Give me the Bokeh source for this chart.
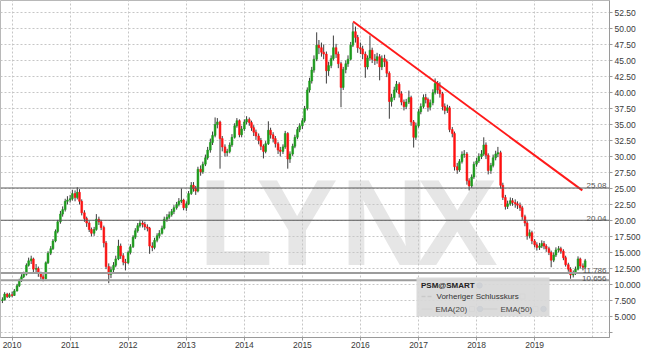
import pandas as pd
from datetime import datetime
from bokeh.plotting import figure
from bokeh.models import (Range1d, FixedTicker, Span, Label, BoxAnnotation,
                          DatetimeTickFormatter, ColumnDataSource)
from bokeh.embed import file_html
from bokeh.resources import INLINE

# ---------------- data (semi-monthly candles) ----------------
first_open = 7.5
c2009 = [7.6, 8.5, 8.1, 8.4]
h2009 = [8.0, 8.8, 8.7, 8.7]
l2009 = [7.1, 7.5, 7.9, 7.9]

c2010 = [8.3, 9.0, 9.8, 10.6, 11.2, 11.6, 13.0, 13.7, 14.0, 12.4, 12.5, 11.8, 11.2, 10.9, 13.4, 14.9, 15.6, 16.8, 18.3, 19.8, 21.0, 21.7, 23.0, 23.2]
h2010 = [8.9, 9.3, 10.1, 10.9, 11.6, 12.0, 13.3, 14.2, 14.5, 14.2, 13.2, 12.8, 12.0, 11.6, 13.6, 15.2, 16.0, 17.1, 18.6, 20.1, 21.5, 22.2, 23.4, 23.8]
l2010 = [8.0, 8.2, 8.9, 9.6, 10.4, 11.0, 11.4, 12.8, 13.2, 11.9, 11.8, 11.2, 10.8, 10.5, 10.8, 13.2, 14.6, 15.4, 16.6, 18.0, 19.5, 20.6, 21.4, 22.5]

c2011 = [23.4, 24.2, 23.6, 24.4, 23.0, 21.2, 20.3, 19.6, 18.6, 18.0, 18.6, 20.2, 19.8, 18.9, 16.5, 12.8, 11.6, 12.3, 13.0, 14.0, 16.0, 14.5, 13.5, 13.4]
h2011 = [24.0, 24.8, 24.7, 25.2, 24.9, 23.3, 21.6, 20.6, 19.9, 18.9, 19.0, 21.0, 20.6, 20.1, 19.2, 16.8, 13.3, 12.8, 13.5, 14.5, 17.0, 16.4, 14.9, 14.0]
l2011 = [22.8, 23.1, 23.0, 23.3, 22.5, 20.8, 19.8, 19.0, 18.2, 17.5, 17.6, 18.4, 19.3, 18.5, 15.8, 12.4, 10.2, 11.0, 11.8, 12.7, 13.8, 14.0, 13.0, 12.2]

c2012 = [15.0, 15.9, 17.4, 18.4, 19.2, 19.6, 19.4, 19.0, 18.8, 16.0, 15.8, 16.9, 17.6, 18.0, 18.8, 20.2, 20.5, 20.9, 21.4, 22.0, 22.5, 23.0, 23.2, 22.0]
h2012 = [15.3, 16.3, 17.7, 18.8, 19.6, 20.1, 20.0, 19.8, 19.4, 19.0, 16.6, 17.3, 18.0, 18.5, 19.2, 20.6, 21.0, 21.4, 21.8, 22.4, 22.9, 23.5, 25.0, 23.4]
l2012 = [13.2, 14.7, 15.7, 17.1, 18.1, 18.9, 18.9, 18.5, 18.3, 14.8, 15.2, 15.5, 16.6, 17.2, 17.8, 18.6, 19.8, 20.2, 20.6, 21.0, 21.7, 22.2, 22.7, 21.6]

c2013 = [22.6, 24.2, 25.5, 25.0, 24.6, 28.0, 27.6, 28.8, 29.8, 31.0, 32.2, 33.3, 35.0, 35.4, 32.8, 31.5, 30.6, 30.8, 31.8, 33.0, 34.8, 35.6, 33.4, 34.3]
h2013 = [23.0, 24.6, 26.0, 26.0, 25.4, 28.4, 28.6, 29.2, 30.3, 31.5, 32.8, 33.9, 36.1, 36.0, 35.6, 33.2, 31.9, 31.2, 32.2, 33.5, 35.2, 36.0, 35.8, 34.8]
l2013 = [21.5, 22.4, 24.0, 24.5, 24.0, 24.4, 27.0, 27.3, 28.5, 29.5, 30.6, 31.8, 33.0, 34.4, 28.1, 30.8, 30.0, 30.0, 30.5, 31.5, 32.8, 34.5, 33.0, 33.0]

c2014 = [35.4, 35.8, 35.3, 34.5, 33.8, 33.2, 32.5, 31.6, 30.8, 32.0, 34.1, 33.4, 32.8, 32.0, 31.0, 30.8, 31.5, 33.6, 29.6, 30.4, 31.6, 33.0, 34.2, 34.8]
h2014 = [35.8, 36.3, 36.1, 35.6, 34.9, 34.2, 33.6, 32.9, 31.9, 32.4, 35.5, 34.5, 33.8, 33.2, 32.3, 31.5, 31.9, 34.0, 33.8, 30.8, 32.0, 33.4, 34.6, 35.2]
l2014 = [34.0, 35.0, 34.8, 34.0, 33.2, 32.6, 31.9, 31.0, 29.7, 30.5, 31.8, 32.8, 32.2, 31.4, 30.4, 30.0, 30.4, 31.2, 28.1, 29.0, 30.1, 31.3, 32.7, 33.8]

c2015 = [35.6, 37.5, 40.4, 41.8, 43.5, 45.2, 47.4, 47.0, 46.3, 46.0, 43.4, 44.2, 45.3, 47.0, 46.0, 44.5, 40.8, 43.6, 44.5, 45.2, 47.4, 49.5, 48.6, 47.0]
h2015 = [36.0, 37.9, 40.8, 42.3, 44.0, 45.8, 49.4, 48.2, 47.8, 47.5, 46.4, 44.8, 45.8, 48.9, 47.6, 46.4, 44.8, 44.0, 45.0, 45.8, 47.9, 50.9, 50.3, 49.0]
l2015 = [34.3, 35.3, 37.2, 40.0, 41.4, 43.1, 44.9, 46.0, 45.6, 45.2, 41.4, 42.6, 43.8, 45.0, 45.4, 43.8, 37.7, 40.4, 43.0, 44.0, 45.0, 47.1, 47.8, 46.2]

c2016 = [46.8, 46.0, 44.0, 45.4, 46.6, 45.2, 45.0, 45.6, 44.0, 45.3, 44.8, 43.0, 38.6, 39.2, 40.4, 41.3, 39.8, 38.5, 37.8, 38.5, 39.2, 35.4, 33.0, 34.8]
h2016 = [47.8, 47.3, 46.4, 45.8, 48.9, 47.0, 46.0, 46.2, 46.0, 45.8, 45.9, 45.2, 43.3, 39.8, 40.9, 41.8, 41.6, 40.2, 38.9, 39.0, 40.3, 39.5, 35.7, 35.3]
l2016 = [46.0, 45.2, 42.3, 43.6, 45.0, 44.6, 44.3, 44.5, 41.9, 43.5, 44.0, 42.4, 35.9, 37.8, 38.8, 40.0, 39.2, 38.0, 37.2, 37.4, 38.2, 34.8, 31.4, 32.6]

c2017 = [37.0, 37.8, 39.2, 38.9, 37.7, 38.4, 40.0, 41.4, 40.4, 39.8, 37.8, 37.2, 37.6, 34.2, 33.6, 28.4, 27.9, 29.2, 30.3, 30.4, 26.2, 25.4, 26.8, 28.8]
h2017 = [37.4, 38.3, 39.7, 39.8, 39.2, 38.9, 40.5, 42.2, 41.8, 41.6, 40.1, 38.3, 38.1, 37.9, 34.6, 33.9, 29.0, 29.6, 30.8, 31.0, 30.7, 26.6, 27.2, 29.2]
l2017 = [34.5, 36.6, 37.5, 38.3, 37.0, 37.2, 38.0, 39.7, 39.8, 39.2, 37.2, 36.6, 36.8, 33.8, 33.0, 27.8, 27.3, 27.6, 28.9, 29.8, 25.6, 24.7, 25.1, 26.5]

c2018 = [29.3, 30.0, 30.4, 31.8, 30.2, 27.8, 28.6, 29.8, 30.4, 30.6, 25.5, 23.6, 22.2, 22.6, 23.1, 22.8, 22.6, 22.4, 22.0, 20.6, 19.6, 17.6, 18.1, 16.8]
h2018 = [29.8, 30.5, 31.0, 33.0, 32.2, 30.5, 29.0, 30.3, 30.9, 31.5, 30.9, 25.9, 24.0, 23.1, 23.6, 23.5, 23.3, 23.0, 22.8, 22.3, 20.9, 19.9, 18.6, 18.4]
l2018 = [28.4, 29.0, 29.6, 30.1, 29.6, 27.2, 27.3, 28.3, 29.4, 29.9, 25.0, 23.2, 21.7, 21.8, 22.3, 22.3, 22.0, 21.8, 21.5, 20.1, 19.1, 17.0, 17.2, 16.3]

c2019 = [16.2, 15.8, 16.0, 16.4, 16.0, 15.6, 15.0, 13.8, 14.6, 15.4, 15.6, 15.2, 14.2, 13.1, 12.4, 11.5, 11.8, 12.4, 14.0, 12.9, 12.7, 13.7]
h2019 = [17.1, 16.6, 16.5, 16.9, 16.8, 16.3, 15.9, 15.3, 15.0, 15.8, 16.0, 15.9, 15.5, 14.5, 13.4, 12.7, 12.2, 12.8, 14.4, 14.2, 13.3, 14.0]
l2019 = [15.8, 15.3, 15.4, 15.7, 15.5, 15.1, 14.6, 12.7, 13.5, 14.3, 15.0, 14.8, 13.8, 12.8, 12.0, 10.9, 11.1, 11.5, 12.2, 12.5, 12.2, 12.5]

trend_dates = ["2015-11-16", "2019-10-28"]
trend_values = [51.1, 24.7]

level_values = [25.08, 20.04, 11.786, 10.656]
level_labels = ["25.08", "20.04", "11.786", "10.656"]

years = list(range(2010, 2021))
year_labels = ["2010", "2011", "2012", "2013", "2014", "2015", "2016", "2017", "2018", "2019", ""]

y_tick_values = [2.5, 5.0, 7.5, 10.0, 12.5, 15.0, 17.5, 20.0, 22.5, 25.0, 27.5, 30.0,
                 32.5, 35.0, 37.5, 40.0, 42.5, 45.0, 47.5, 50.0, 52.5]
y_tick_labels = ["", "5.000", "7.500", "10.000", "12.500", "15.000", "17.500", "20.00",
                 "22.50", "25.00", "27.50", "30.00", "32.50", "35.00", "37.50", "40.00",
                 "42.50", "45.00", "47.50", "50.00", "52.50"]

# ---------------- build ----------------
close = c2009 + c2010 + c2011 + c2012 + c2013 + c2014 + c2015 + c2016 + c2017 + c2018 + c2019
high = h2009 + h2010 + h2011 + h2012 + h2013 + h2014 + h2015 + h2016 + h2017 + h2018 + h2019
low = l2009 + l2010 + l2011 + l2012 + l2013 + l2014 + l2015 + l2016 + l2017 + l2018 + l2019
opens = [first_open] + close[:-1]
dates = pd.date_range("2009-11-01", periods=len(close), freq="SMS")

GREEN = "#1c9c1c"
RED = "#ff1212"
src = ColumnDataSource(dict(
    date=dates, high=high, low=low,
    top=[max(o, c) for o, c in zip(opens, close)],
    bottom=[min(o, c) for o, c in zip(opens, close)],
    color=[GREEN if c >= o else RED for o, c in zip(opens, close)],
))


def ms(d):
    return pd.Timestamp(d).value / 1e6


X0, X1 = ms(datetime(2009, 10, 20)), ms(datetime(2020, 4, 16))
Y0, Y1 = 1.72, 54.375
FRAME_W, FRAME_H = 609, 337


def sx(px):  # canvas pixel -> data x (for decorations)
    return X0 + px / FRAME_W * (X1 - X0)


def sy(py):  # canvas pixel -> data y (for decorations)
    return Y1 - py / FRAME_H * (Y1 - Y0)


p = figure(width=645, height=357, x_axis_type="datetime", y_axis_location="right",
           x_range=Range1d(X0, X1), y_range=Range1d(Y0, Y1),
           output_backend="svg", toolbar_location=None,
           min_border_left=0, min_border_top=0, min_border_right=36, min_border_bottom=20)
p.background_fill_color = "white"
p.border_fill_color = "white"
p.outline_line_color = "#b8b8b8"

AX = "#9a9a9a"
for ax in (p.xaxis, p.yaxis):
    ax.axis_line_color = AX
    ax.major_tick_line_color = AX
    ax.major_tick_out = 3
    ax.major_tick_in = 0
    ax.minor_tick_line_color = None
    ax.major_label_text_font = "Liberation Sans"
    ax.major_label_text_font_size = "8.5px"
    ax.major_label_text_color = "#3a3a3a"

year_ticks = [ms(datetime(y, 1, 1)) for y in years]
p.xaxis.ticker = FixedTicker(ticks=year_ticks[:-1])
p.xaxis.formatter = DatetimeTickFormatter(years="%Y", months="%Y", days="%Y")
p.xaxis.major_label_overrides = {t: lab for t, lab in zip(year_ticks, year_labels)}
p.xaxis.major_label_standoff = 1
p.xgrid.ticker = FixedTicker(ticks=year_ticks)

p.yaxis.ticker = FixedTicker(ticks=y_tick_values)
p.yaxis.major_label_overrides = {v: lab for v, lab in zip(y_tick_values, y_tick_labels)}
p.yaxis.major_label_standoff = 2
p.ygrid.ticker = FixedTicker(ticks=y_tick_values)

for g in (p.xgrid, p.ygrid):
    g.grid_line_color = "#c6c6c6"
    g.grid_line_dash = "2 2"
    g.grid_line_width = 1

# watermark
for letter, left in zip("LYNX", [198, 256, 340, 416]):
    p.add_layout(Label(x=sx(left), y=sy(222), text=letter, text_align="left",
                       text_baseline="alphabetic", text_font="Liberation Sans",
                       text_font_style="bold", text_font_size="122px",
                       text_color="#e6e6e6", level="image"))

# level lines
level_styles = [("#5a5a5a", 1.2), ("#5a5a5a", 1.2), ("#9c9c9c", 2), ("#9c9c9c", 2)]
for v, lab, (col, w) in zip(level_values, level_labels, level_styles):
    p.add_layout(Span(location=v, dimension="width", line_color=col, line_width=w))
    p.add_layout(Label(x=sx(606), y=v + 2.2 * (Y1 - Y0) / FRAME_H, text=lab,
                       text_align="right", text_baseline="alphabetic",
                       text_font="Liberation Sans", text_font_size="8px",
                       text_color="#555555"))

# candles
BODY_W = 11 * 86400000
p.segment(x0="date", y0="high", x1="date", y1="low", source=src,
          line_color="#3c3c3c", line_width=1)
p.vbar(x="date", width=BODY_W, top="top", bottom="bottom", source=src,
       fill_color="color", line_color="color", line_width=0.6)

# trend line
p.line(x=[ms(d) for d in trend_dates], y=trend_values, line_color="#ff1a1a", line_width=2)

# legend box
p.add_layout(BoxAnnotation(left=sx(416), right=sx(549), top=sy(277), bottom=sy(316),
                           fill_color="#d8d8d8", fill_alpha=0.92, line_color=None,
                           level="overlay"))
leg_font = "Liberation Sans"
p.add_layout(Label(x=sx(420.5), y=sy(285), text="PSM@SMART", text_baseline="middle",
                   text_font=leg_font, text_font_style="bold", text_font_size="8px",
                   text_color="#222222", level="overlay"))
p.add_layout(Label(x=sx(436), y=sy(296), text="Vorheriger Schlusskurs", text_baseline="middle",
                   text_font=leg_font, text_font_size="8px", text_color="#333333",
                   level="overlay"))
p.add_layout(Label(x=sx(435), y=sy(308.5), text="EMA(20)", text_baseline="middle",
                   text_font=leg_font, text_font_size="8px", text_color="#444444",
                   level="overlay"))
p.add_layout(Label(x=sx(500), y=sy(308.5), text="EMA(50)", text_baseline="middle",
                   text_font=leg_font, text_font_size="8px", text_color="#444444",
                   level="overlay"))
p.segment(x0=[sx(421)], y0=[sy(296)], x1=[sx(433)], y1=[sy(296)], line_color="#222222",
          line_width=1.3, line_dash="4 2", level="overlay")
p.segment(x0=[sx(421), sx(482)], y0=[sy(308.5)] * 2, x1=[sx(432), sx(497)],
          y1=[sy(308.5)] * 2, line_color=["#a0a0a0", "#555555"], line_width=1,
          level="overlay")
p.scatter(x=[sx(522), sx(471.5), sx(535)], y=[sy(296), sy(308.5), sy(308.5)],
          marker="square", size=5, fill_color="white", line_color="#c8c8c8", level="overlay")
p.scatter(x=[sx(479), sx(479.5), sx(543)], y=[sy(285), sy(308.5), sy(308.5)],
          marker="circle", size=5.5, fill_color="#6d8cc0", line_color="#3f5f95",
          line_width=0.8, level="overlay")

open("out.html", "w").write(file_html(p, INLINE))
